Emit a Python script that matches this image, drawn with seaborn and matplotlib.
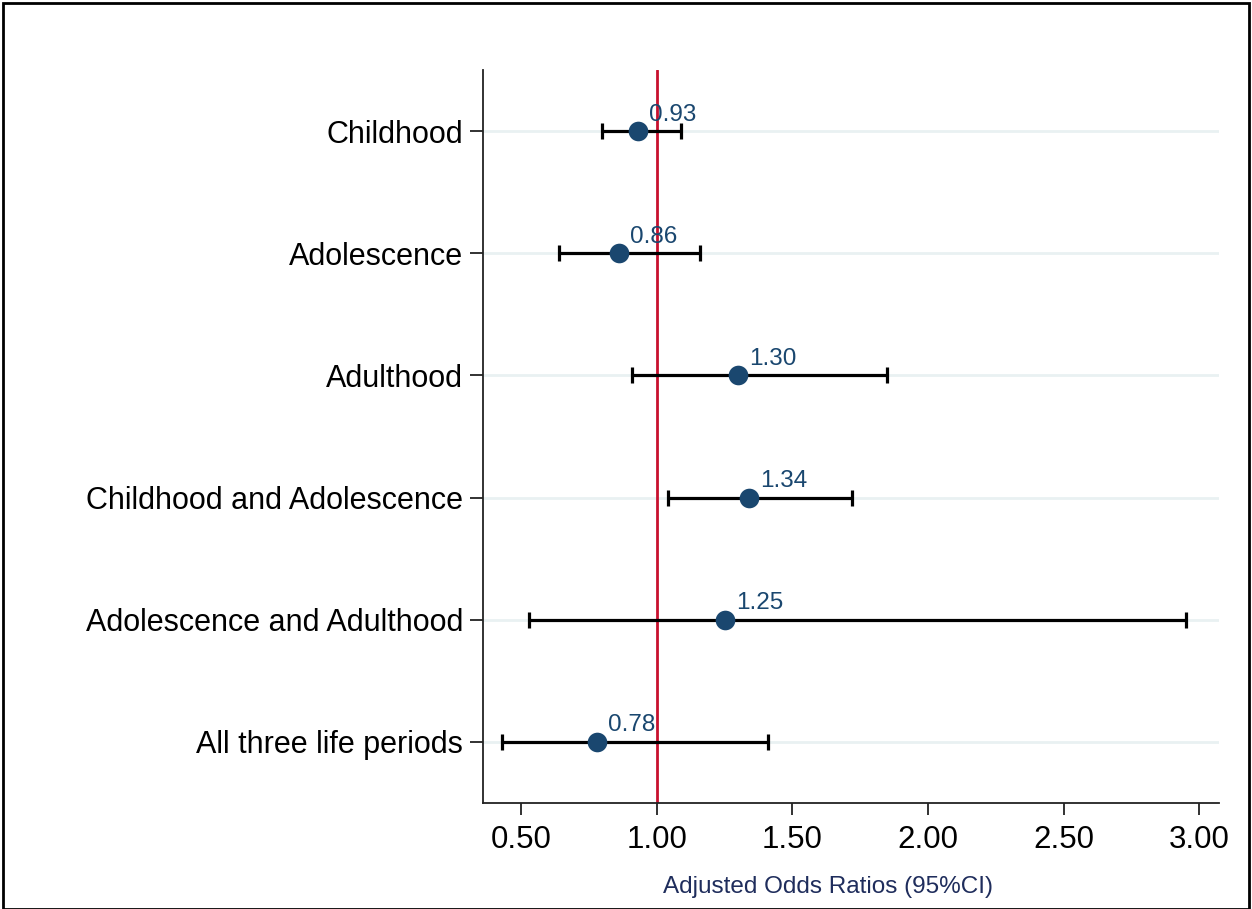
import matplotlib
matplotlib.use("Agg")
import matplotlib.pyplot as plt
import matplotlib.patches as mpatches
import numpy as np
import pandas as pd
import seaborn as sns

# Life periods and adjusted odds ratios with 95% confidence limits
periods = [
    "Childhood",
    "Adolescence",
    "Adulthood",
    "Childhood and Adolescence",
    "Adolescence and Adulthood",
    "All three life periods",
]
odds_ratio = [0.93, 0.86, 1.30, 1.34, 1.25, 0.78]
ci_low = [0.80, 0.64, 0.91, 1.04, 0.53, 0.43]
ci_high = [1.09, 1.16, 1.85, 1.72, 2.95, 1.41]
x_ticks = [0.50, 1.00, 1.50, 2.00, 2.50, 3.00]

df = pd.DataFrame({"period": periods, "aor": odds_ratio,
                   "lo": ci_low, "hi": ci_high})
df["pos"] = np.arange(len(df))

sns.set_theme(style="white")
plt.rcParams["font.family"] = ["Liberation Sans", "DejaVu Sans"]

MARK = "#1a476f"
REF = "#c8102e"
GRID = "#e9f1f2"

fig = plt.figure(figsize=(12.52, 9.09), dpi=100)
fig.patch.set_facecolor("white")
ax = fig.add_axes([0.3858, 0.1166, 0.9736 - 0.3858, 0.923 - 0.1166])

# light horizontal guide at each period
for p in df["pos"]:
    ax.axhline(p, color=GRID, lw=2, zorder=0)

# reference line at OR = 1
ax.axvline(1.0, color=REF, lw=2, zorder=1)

# confidence intervals
ax.errorbar(df["aor"], df["pos"],
            xerr=[df["aor"] - df["lo"], df["hi"] - df["aor"]],
            fmt="none", ecolor="black", elinewidth=2.3, capsize=6,
            capthick=2.3, zorder=2)

# point estimates
sns.scatterplot(data=df, x="aor", y="pos", ax=ax, s=200, color=MARK,
                edgecolor=MARK, linewidth=0, zorder=3, legend=False)

for _, r in df.iterrows():
    ax.annotate(f"{r['aor']:.2f}", (r["aor"], r["pos"]),
                xytext=(8, 4), textcoords="offset points",
                ha="left", va="bottom", fontsize=17.5, color=MARK, zorder=4)

ax.set_xlim(0.36, 3.072)
ax.set_ylim(5.5, -0.5)
ax.set_yticks(df["pos"])
ax.set_yticklabels(periods, fontsize=22, color="black")
ax.set_xticks(x_ticks)
ax.set_xticklabels([f"{v:.2f}" for v in x_ticks], fontsize=22.5, color="black")
ax.tick_params(axis="x", length=8.5, width=1.3, color="#222222", pad=7, bottom=True)
ax.tick_params(axis="y", length=9.5, width=1.3, color="#222222", pad=5, left=True)

ax.set_xlabel("Adjusted Odds Ratios (95%CI)", fontsize=17.5, color="#1f2d5c",
              labelpad=14)
ax.xaxis.set_label_coords(0.469, -0.099)
ax.set_ylabel("")

for side in ("top", "right"):
    ax.spines[side].set_visible(False)
for side in ("left", "bottom"):
    ax.spines[side].set_color("#222222")
    ax.spines[side].set_linewidth(1.3)

# outer frame around the whole figure
fig.patches.append(mpatches.Rectangle((0.002, 0.0), 0.9955, 0.997,
                                      transform=fig.transFigure, fill=False,
                                      edgecolor="black", linewidth=2))

fig.savefig("out.png", dpi=100, facecolor="white")
